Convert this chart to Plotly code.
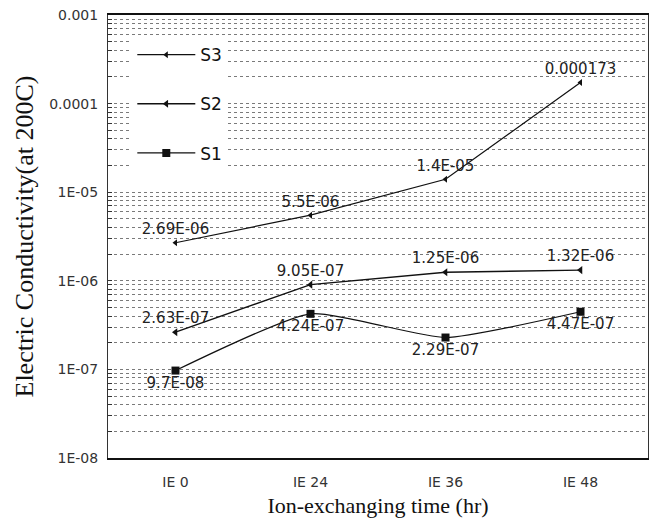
import plotly.graph_objects as go

categories = ["IE 0", "IE 24", "IE 36", "IE 48"]
s3_values = [2.69e-06, 5.5e-06, 1.4e-05, 0.000173]
s2_values = [2.63e-07, 9.05e-07, 1.25e-06, 1.32e-06]
s1_values = [9.7e-08, 4.24e-07, 2.29e-07, 4.47e-07]
s3_labels = ["2.69E-06", "5.5E-06", "1.4E-05", "0.000173"]
s2_labels = ["2.63E-07", "9.05E-07", "1.25E-06", "1.32E-06"]
s1_labels = ["9.7E-08", "4.24E-07", "2.29E-07", "4.47E-07"]
major_ticks = [1e-08, 1e-07, 1e-06, 1e-05, 1e-04, 1e-03]
major_labels = ["1E-08", "1E-07", "1E-06", "1E-05", "0.0001", "0.001"]

# tick positions (major + minor) for the dense dotted grid
tickvals, ticktext = [], []
for m, lab in zip(major_ticks, major_labels):
    tickvals.append(m)
    ticktext.append(lab)
    if m < 1e-03:
        for k in range(2, 10):
            tickvals.append(m * k)
            ticktext.append("")

label_font = dict(family="DejaVu Sans", size=15, color="#222")

fig = go.Figure()
fig.add_trace(go.Scatter(
    x=categories, y=s3_values, name="S3", legendgroup="g3",
    mode="lines+markers+text", text=s3_labels,
    textposition="top center",
    textfont=label_font,
    line=dict(color="#111", width=1.2),
    marker=dict(symbol="triangle-left", size=6, color="#111"),
    cliponaxis=False,
))
fig.add_trace(go.Scatter(
    x=categories, y=s2_values, name="S2", legendgroup="g2",
    mode="lines+markers+text", text=s2_labels,
    textposition="top center", textfont=label_font,
    line=dict(color="#111", width=1.4),
    marker=dict(symbol="triangle-left", size=7, color="#111"),
    cliponaxis=False,
))
fig.add_trace(go.Scatter(
    x=categories, y=s1_values, name="S1", legendgroup="g1",
    mode="lines+markers+text", text=s1_labels,
    textposition="bottom center", textfont=label_font,
    line=dict(color="#111", width=1.2, shape="spline", smoothing=0.5),
    marker=dict(symbol="square", size=8, color="#111"),
    cliponaxis=False,
))

fig.update_layout(
    width=651, height=522,
    margin=dict(l=108, r=3, t=15, b=64),
    paper_bgcolor="white", plot_bgcolor="white",
    showlegend=True,
    legend=dict(
        x=0.045, y=0.95, xanchor="left", yanchor="top",
        bgcolor="white", borderwidth=0, itemwidth=58,
        font=dict(family="DejaVu Sans", size=17, color="#111"),
        tracegroupgap=24,
    ),
    xaxis=dict(
        type="category", range=[-0.5, 3.5],
        showgrid=False, showline=True, linecolor="#111", linewidth=2,
        mirror=True, ticks="", ticklabelstandoff=10,
        tickfont=dict(family="DejaVu Sans", size=14, color="#333"),
        title=dict(text="Ion-exchanging time (hr)", standoff=9,
                   font=dict(family="Liberation Serif", size=22, color="#111")),
    ),
    yaxis=dict(
        type="log", range=[-8, -3],
        tickmode="array", tickvals=tickvals, ticktext=ticktext,
        ticks="inside", ticklen=4, tickcolor="#333",
        ticklabelstandoff=6,
        showgrid=True, gridcolor="#7a7a7a", griddash="dot", gridwidth=1,
        showline=True, linecolor="#333", linewidth=1, mirror=True,
        tickfont=dict(family="DejaVu Sans", size=14, color="#333"),
        title=dict(text="Electric Conductivity(at 200C)", standoff=8,
                   font=dict(family="Liberation Serif", size=26, color="#111")),
        zeroline=False,
    ),
)

fig.write_html("out.html")
